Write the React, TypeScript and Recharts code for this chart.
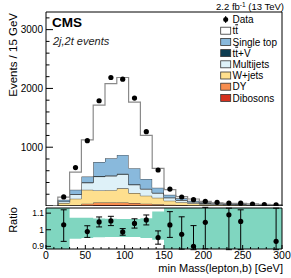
import { ComposedChart, Area, Scatter, XAxis, YAxis, ReferenceArea, ErrorBar } from "recharts";

// lower bin edges (15 GeV bins) of the stacked prediction
const binEdges = [15, 30, 45, 60, 75, 90, 105, 120, 135, 150, 165, 180, 195, 210, 225, 240, 255, 270, 285];
const dibosons = [3, 5, 10, 15, 15, 15, 12, 10, 8, 5, 4, 3, 2, 2, 1, 1, 1, 1, 1];
const dy = [5, 7, 30, 45, 45, 45, 38, 30, 22, 15, 11, 7, 6, 4, 4, 3, 2, 1, 1];
const wjets = [42, 112, 236, 205, 210, 240, 170, 135, 110, 70, 50, 35, 22, 16, 13, 12, 9, 6, 4];
const multijets = [25, 76, 119, 235, 240, 240, 141, 113, 80, 50, 35, 25, 18, 14, 12, 12, 8, 6, 6];
const ttv = [3, 5, 7, 10, 10, 10, 9, 7, 5, 3, 2, 2, 2, 1, 1, 1, 1, 1, 0];
const singleTop = [27, 71, 98, 238, 293, 319, 274, 165, 85, 47, 28, 18, 12, 9, 7, 7, 6, 4, 4];
const ttbar = [45, 299, 625, 967, 1267, 1317, 1124, 740, 330, 90, 30, 29, 15, 9, 8, 10, 11, 9, 5];

// data points at bin centres
const dataX = [22.5, 37.5, 52.5, 67.5, 82.5, 97.5, 112.5, 127.5, 142.5, 157.5, 172.5, 187.5, 202.5, 217.5, 232.5, 247.5, 262.5, 277.5, 292.5];
const dataY = [155, 654, 1112, 1790, 2186, 2158, 1835, 1264, 612, 288, 153, 107, 80, 62, 50, 48, 32, 22, 20];

// ratio panel (null = outside the visible range)
const ratio = [1.03, null, 0.989, 1.047, 1.053, 0.987, 1.038, 1.059, 0.953, 1.029, 0.973, 0.9, 1.045, null, 1.09, 1.05, null, null, 0.93];
const ratioErrDown = [0.1, 0, 0.035, 0.03, 0.028, 0.02, 0.028, 0.03, 0.04, 0.075, 0.09, 0.02, 0.16, 0, 0.21, 0.17, 0, 0, 0.05];
const ratioErrUp = [0.09, 0, 0.035, 0.03, 0.028, 0.02, 0.028, 0.03, 0.04, 0.08, 0.105, 0.125, 0.09, 0, 0.04, 0.07, 0, 0, 0.2];

// MC uncertainty band
const bandEdges = [0, 15, 30, 45, 60, 75, 90, 105, 120, 135, 150, 165, 180, 195, 210, 225, 240, 255, 270, 285];
const bandLow = [0.87, 0.87, 0.945, 0.95, 0.955, 0.957, 0.957, 0.957, 0.95, 0.94, 0.87, 0.87, 0.87, 0.87, 0.87, 0.87, 0.87, 0.87, 0.87, 0.87];
const bandHigh = [1.14, 1.14, 1.072, 1.072, 1.068, 1.066, 1.065, 1.065, 1.07, 1.11, 1.14, 1.14, 1.14, 1.14, 1.14, 1.14, 1.14, 1.14, 1.14, 1.14];

const xTicks = [0, 10, 20, 30, 40, 50, 60, 70, 80, 90, 100, 110, 120, 130, 140, 150, 160, 170, 180, 190, 200, 210, 220, 230, 240, 250, 260, 270, 280, 290, 300];
const yTicks = [0, 200, 400, 600, 800, 1000, 1200, 1400, 1600, 1800, 2000, 2200, 2400, 2600, 2800, 3000, 3200];
const ratioTicks = [0.9, 1, 1.1];

const colors = {
  dibosons: "#d5301e",
  dy: "#f78d4f",
  wjets: "#fedf8e",
  multijets: "#def1f8",
  ttv: "#0c3c50",
  singleTop: "#89b9dc",
  ttbar: "#ffffff",
};

const zero = { dibosons: 0, dy: 0, wjets: 0, multijets: 0, ttv: 0, singleTop: 0, ttbar: 0 };
const stackRows = [
  { x: 15, ...zero },
  ...binEdges.map((x, i) => ({
    x,
    dibosons: dibosons[i],
    dy: dy[i],
    wjets: wjets[i],
    multijets: multijets[i],
    ttv: ttv[i],
    singleTop: singleTop[i],
    ttbar: ttbar[i],
  })),
  { x: 300, ...zero },
];

const dataPoints = dataX.map((x, i) => ({ x, y: dataY[i] }));

const ratioPoints = dataX
  .map((x, i) => ({ x, y: ratio[i], err: [ratioErrDown[i], ratioErrUp[i]] }))
  .filter((p) => p.y !== null);

const bandRows = [
  ...bandEdges.map((x, i) => ({ x, band: [bandLow[i], bandHigh[i]] })),
  { x: 300, band: [bandLow[bandLow.length - 1], bandHigh[bandHigh.length - 1]] },
];

const Dot = (p: any) => <circle cx={p.cx} cy={p.cy} r={2.6} fill="#000" />;

const MainYTick = ({ x, y, payload }: any) => {
  const major = payload.value % 1000 === 0;
  return (
    <g>
      <line x1={x} x2={x + (major ? 7 : 3.5)} y1={y} y2={y} stroke="#000" />
      {major && payload.value > 0 && (
        <text x={x - 3} y={y + 3.5} textAnchor="end" fontSize={10} fill="#000">
          {payload.value}
        </text>
      )}
    </g>
  );
};

const MainXTick = ({ x, y, payload }: any) => {
  const major = payload.value % 50 === 0;
  return <line x1={x} x2={x} y1={y} y2={y - (major ? 6 : 3)} stroke="#000" />;
};

const RatioXTick = ({ x, y, payload }: any) => {
  const major = payload.value % 50 === 0;
  return (
    <g>
      <line x1={x} x2={x} y1={y} y2={y - (major ? 4 : 2)} stroke="#000" />
      {major && (
        <text x={x} y={y + 9.5} textAnchor="middle" fontSize={10.5} fill="#000">
          {payload.value}
        </text>
      )}
    </g>
  );
};

const RatioYTick = ({ x, y, payload }: any) => (
  <g>
    <line x1={x} x2={x + 5} y1={y} y2={y} stroke="#000" />
    <text x={x - 2} y={y + 3} textAnchor="end" fontSize={8.5} fill="#000">
      {payload.value}
    </text>
  </g>
);

const legend = [
  { key: "ttbar", label: <>t<tspan style={{ textDecoration: "overline" }}>t</tspan></> },
  { key: "singleTop", label: <>Single top</> },
  { key: "ttv", label: <>t<tspan style={{ textDecoration: "overline" }}>t</tspan>+V</> },
  { key: "multijets", label: <>Multijets</> },
  { key: "wjets", label: <>W+jets</> },
  { key: "dy", label: <>DY</> },
  { key: "dibosons", label: <>Dibosons</> },
];

const series = ["dibosons", "dy", "wjets", "multijets", "ttv", "singleTop", "ttbar"] as const;

export default function App() {
  return (
    <div
      style={{
        position: "relative",
        width: 291,
        height: 278,
        background: "#fff",
        fontFamily: "'Liberation Sans', Arial, sans-serif",
      }}
    >
      <style>{"body{margin:0}"}</style>
      <div style={{ position: "absolute", left: 0, top: 0 }}>
        <ComposedChart width={291} height={206} data={stackRows} margin={{ top: 12, right: 9, bottom: 0, left: 8 }}>
          <XAxis
            dataKey="x"
            type="number"
            domain={[0, 300]}
            ticks={xTicks}
            interval={0}
            height={0}
            tickSize={0}
            tickMargin={0}
            axisLine={false}
            tick={MainXTick}
          />
          <YAxis
            type="number"
            domain={[0, 3300]}
            ticks={yTicks}
            interval={0}
            width={38}
            tickSize={0}
            tickMargin={0}
            axisLine={false}
            tick={MainYTick}
          />
          {series.map((k) => (
            <Area
              key={k}
              type="stepAfter"
              dataKey={k}
              stackId="mc"
              fill={colors[k]}
              fillOpacity={1}
              stroke={k === "ttbar" ? "#8a8a8a" : "#3a3a3a"}
              strokeWidth={k === "ttbar" ? 1.2 : 0.9}
              dot={false}
              activeDot={false}
              isAnimationActive={false}
            />
          ))}
          <Scatter data={dataPoints} dataKey="y" shape={Dot} isAnimationActive={false} />
          <ReferenceArea x1={0} x2={300} y1={0} y2={3300} fill="none" stroke="#000" strokeWidth={1} ifOverflow="visible" />
        </ComposedChart>
      </div>
      <div style={{ position: "absolute", left: 0, top: 206 }}>
        <ComposedChart width={291} height={72} data={bandRows} margin={{ top: 2, right: 9, bottom: 0, left: 8 }}>
          <XAxis
            dataKey="x"
            type="number"
            domain={[0, 300]}
            ticks={xTicks}
            interval={0}
            height={29}
            tickSize={0}
            tickMargin={0}
            axisLine={false}
            tick={RatioXTick}
          />
          <YAxis
            type="number"
            domain={[0.884, 1.131]}
            allowDataOverflow
            ticks={ratioTicks}
            interval={0}
            width={38}
            tickSize={0}
            tickMargin={0}
            axisLine={false}
            tick={RatioYTick}
          />
          <Area
            type="stepAfter"
            dataKey="band"
            fill="#80d6c0"
            fillOpacity={1}
            stroke="none"
            dot={false}
            activeDot={false}
            isAnimationActive={false}
          />
          <Scatter data={ratioPoints} dataKey="y" shape={Dot} isAnimationActive={false}>
            <ErrorBar dataKey="err" direction="y" width={3} stroke="#000" strokeWidth={1} />
          </Scatter>
          <ReferenceArea x1={0} x2={300} y1={0.884} y2={1.131} fill="none" stroke="#000" strokeWidth={1} ifOverflow="visible" />
        </ComposedChart>
      </div>
      <svg width={291} height={278} style={{ position: "absolute", left: 0, top: 0, pointerEvents: "none" }}>
        <text x={52} y={27} fontSize={13.5} fontWeight="bold" fill="#000">CMS</text>
        <text x={53} y={44.5} fontSize={11} fontStyle="italic" fill="#222">2j,2t events</text>
        <text x={284} y={10} fontSize={9.5} textAnchor="end" fill="#000">
          2.2 fb<tspan dy={-3.5} fontSize={6.5}>-1</tspan>
          <tspan dy={3.5}> (13 TeV)</tspan>
        </text>
        <line x1={225.7} x2={225.7} y1={16} y2={23} stroke="#000" />
        <circle cx={225.7} cy={19.5} r={2.5} fill="#000" />
        <text x={232.5} y={23} fontSize={10} fill="#000">Data</text>
        {legend.map((item, i) => {
          const cy = 30.7 + i * 11.2;
          return (
            <g key={item.key}>
              <rect x={220.7} y={cy - 3.5} width={10} height={7} fill={colors[item.key as keyof typeof colors]} stroke="#333" strokeWidth={0.8} />
              <text x={232.5} y={cy + 3.6} fontSize={10} fill="#000">{item.label}</text>
            </g>
          );
        })}
        <text transform="rotate(-90)" x={-13} y={17} textAnchor="end" fontSize={11.5} fill="#000">
          Events /  15 GeV
        </text>
        <text transform="rotate(-90)" x={-220} y={17} textAnchor="middle" fontSize={11} fill="#000">
          Ratio
        </text>
        <text x={283} y={271.5} textAnchor="end" fontSize={11} fill="#000">
          min Mass(lepton,b) [GeV]
        </text>
      </svg>
    </div>
  );
}
